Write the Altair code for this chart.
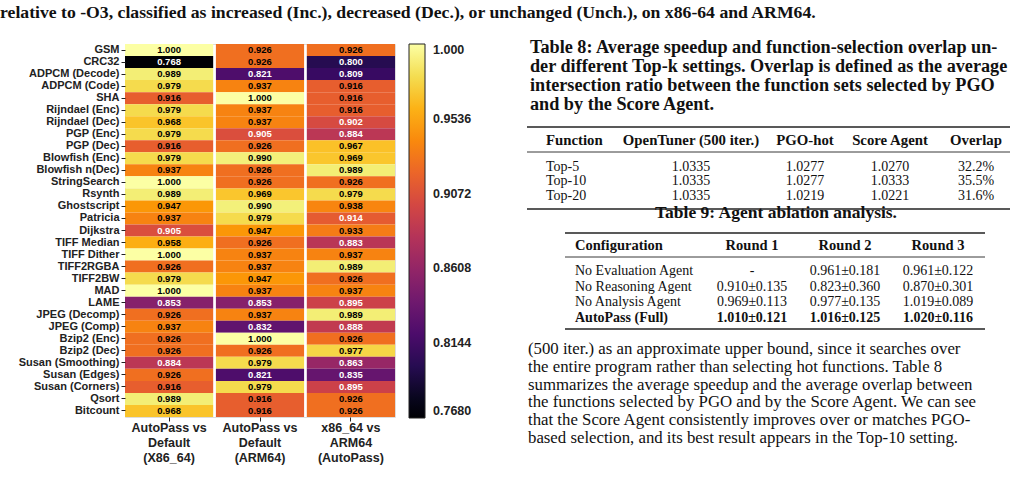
import altair as alt
import pandas as pd

benchmarks = ["GSM", "CRC32", "ADPCM (Decode)", "ADPCM (Code)", "SHA", "Rijndael (Enc)",
              "Rijndael (Dec)", "PGP (Enc)", "PGP (Dec)", "Blowfish (Enc)", "Blowfish n(Dec)",
              "StringSearch", "Rsynth", "Ghostscript", "Patricia", "Dijkstra", "TIFF Median",
              "TIFF Dither", "TIFF2RGBA", "TIFF2BW", "MAD", "LAME", "JPEG (Decomp)",
              "JPEG (Comp)", "Bzip2 (Enc)", "Bzip2 (Dec)", "Susan (Smoothing)", "Susan (Edges)",
              "Susan (Corners)", "Qsort", "Bitcount"]
comparisons = ["AutoPass vs|Default|(X86_64)", "AutoPass vs|Default|(ARM64)", "x86_64 vs|ARM64|(AutoPass)"]
col_x86 = [1.000, 0.768, 0.989, 0.979, 0.916, 0.979, 0.968, 0.979, 0.916, 0.979, 0.937,
           1.000, 0.989, 0.947, 0.937, 0.905, 0.958, 1.000, 0.926, 0.979, 1.000, 0.853,
           0.926, 0.937, 0.926, 0.926, 0.884, 0.926, 0.916, 0.989, 0.968]
col_arm = [0.926, 0.926, 0.821, 0.937, 1.000, 0.937, 0.937, 0.905, 0.926, 0.990, 0.926,
           0.926, 0.969, 0.990, 0.979, 0.947, 0.926, 0.937, 0.937, 0.947, 0.937, 0.853,
           0.937, 0.832, 1.000, 0.926, 0.979, 0.821, 0.979, 0.916, 0.916]
col_cross = [0.926, 0.800, 0.809, 0.916, 0.916, 0.916, 0.902, 0.884, 0.967, 0.969, 0.989,
             0.926, 0.979, 0.938, 0.914, 0.933, 0.883, 0.937, 0.989, 0.926, 0.937, 0.895,
             0.989, 0.888, 0.926, 0.977, 0.863, 0.835, 0.895, 0.926, 0.926]
legend_ticks = [0.768, 0.8144, 0.8608, 0.9072, 0.9536, 1.0]

top_line = "relative to -O3, classified as increased (Inc.), decreased (Dec.), or unchanged (Unch.), on x86-64 and ARM64."
caption8 = ["Table 8: Average speedup and function-selection overlap un-",
            "der different Top-k settings. Overlap is defined as the average",
            "intersection ratio between the function sets selected by PGO",
            "and by the Score Agent."]
t8_header = ["Function", "OpenTuner (500 iter.)", "PGO-hot", "Score Agent", "Overlap"]
t8_rows = [["Top-5", "1.0335", "1.0277", "1.0270", "32.2%"],
           ["Top-10", "1.0335", "1.0277", "1.0333", "35.5%"],
           ["Top-20", "1.0335", "1.0219", "1.0221", "31.6%"]]
caption9 = "Table 9: Agent ablation analysis."
t9_header = ["Configuration", "Round 1", "Round 2", "Round 3"]
t9_rows = [["No Evaluation Agent", "-", "0.961±0.181", "0.961±0.122"],
           ["No Reasoning Agent", "0.910±0.135", "0.823±0.360", "0.870±0.301"],
           ["No Analysis Agent", "0.969±0.113", "0.977±0.135", "1.019±0.089"],
           ["AutoPass (Full)", "1.010±0.121", "1.016±0.125", "1.020±0.116"]]
paragraph = ["(500 iter.) as an approximate upper bound, since it searches over",
             "the entire program rather than selecting hot functions. Table 8",
             "summarizes the average speedup and the average overlap between",
             "the functions selected by PGO and by the Score Agent. We can see",
             "that the Score Agent consistently improves over or matches PGO-",
             "based selection, and its best result appears in the Top-10 setting."]

rows = []
for comp, col in zip(comparisons, [col_x86, col_arm, col_cross]):
    for b, v in zip(benchmarks, col):
        rows.append({"bench": b, "comp": comp, "value": v})
df = pd.DataFrame(rows)

# layout (page pixels)
OX, OY = 125, 44
W, H = 270, 373
SANS = "Liberation Sans"
SERIF = "Liberation Serif"

base = alt.Chart(df).encode(
    x=alt.X("comp:N", sort=comparisons, title=None,
            scale=alt.Scale(paddingInner=0.03, paddingOuter=0),
            axis=alt.Axis(labelAngle=0, labelExpr="split(datum.label, '|')",
                          labelFont=SANS, labelFontSize=12.5, labelFontWeight="bold",
                          labelLineHeight=15, labelColor="#222", labelPadding=0,
                          tickSize=4, tickColor="#222", domain=False)),
    y=alt.Y("bench:N", sort=benchmarks, title=None,
            scale=alt.Scale(paddingInner=0, paddingOuter=0),
            axis=alt.Axis(labelFont=SANS, labelFontSize=11, labelFontWeight="bold",
                          labelColor="#222", labelPadding=2, tickSize=4, tickColor="#222",
                          domain=False, labelLimit=200)),
)
rects = base.mark_rect().encode(
    color=alt.Color("value:Q",
                    scale=alt.Scale(scheme="inferno", domain=[0.768, 1.0]),
                    legend=alt.Legend(title=None, orient="right", offset=14,
                                      gradientLength=374, gradientThickness=16,
                                      gradientStrokeColor="#222", gradientStrokeWidth=1,
                                      values=legend_ticks,
                                      labelExpr="datum.value == 1 ? '1.000' : format(datum.value, '.4f')",
                                      labelFont=SANS, labelFontSize=12.5, labelFontWeight="bold",
                                      labelColor="#222", labelOffset=8, labelBaseline="middle",
                                      padding=0))
)
labels = base.mark_text(font=SANS, fontSize=9.5, fontWeight="bold").encode(
    text=alt.Text("value:Q", format=".3f"),
    color=alt.condition(alt.datum.value < 0.915, alt.value("white"), alt.value("black")),
)

layers = [rects, labels]


def txt(s, x, y, size, weight="normal", align="left", font=SERIF):
    return alt.Chart(pd.DataFrame({"t": [s]})).mark_text(
        align=align, baseline="middle", fontSize=size, fontWeight=weight, font=font,
        color="#111").encode(x=alt.value(x - OX), y=alt.value(y - OY), text="t:N")


def hrule(x1, x2, y, w):
    return alt.Chart(pd.DataFrame({"t": [0]})).mark_rule(color="#222", strokeWidth=w).encode(
        x=alt.value(x1 - OX), x2=alt.value(x2 - OX), y=alt.value(y - OY))


layers.append(txt(top_line, 0, 13, 17.7, "bold"))
for i, line in enumerate(caption8):
    layers.append(txt(line, 530, 48 + 19 * i, 18.2, "bold"))

# Table 8
t8_x = [546, 691, 805, 890, 976]
t8_align = ["left", "center", "center", "center", "center"]
layers.append(hrule(527, 1010, 127, 1.6))
for j, h in enumerate(t8_header):
    layers.append(txt(h, t8_x[j], 141, 14.8, "bold", t8_align[j]))
layers.append(hrule(527, 1010, 152, 0.9))
for i, r in enumerate(t8_rows):
    for j, c in enumerate(r):
        layers.append(txt(c, t8_x[j], 166.5 + 14.5 * i, 14, "normal", t8_align[j]))
layers.append(hrule(527, 1010, 209, 1.6))
layers.append(txt(caption9, 776, 213, 17.5, "bold", "center"))

# Table 9
t9_x = [575, 752, 845, 938]
t9_align = ["left", "center", "center", "center"]
layers.append(hrule(565, 985, 233, 1.6))
for j, h in enumerate(t9_header):
    layers.append(txt(h, t9_x[j], 246, 14.5, "bold", t9_align[j]))
layers.append(hrule(565, 985, 257, 0.9))
for i, r in enumerate(t9_rows):
    w = "bold" if i == len(t9_rows) - 1 else "normal"
    for j, c in enumerate(r):
        layers.append(txt(c, t9_x[j], 271 + 15.5 * i, 14, w, t9_align[j]))
layers.append(hrule(565, 985, 329, 1.6))

for i, line in enumerate(paragraph):
    layers.append(txt(line, 528, 349 + 17.8 * i, 16.8, "normal"))

chart = alt.layer(*layers).properties(
    width=W, height=H,
    autosize=alt.AutoSizeParams(type="none"),
    padding={"left": OX, "top": OY, "right": 1024 - OX - W, "bottom": 479 - OY - H},
).configure_view(stroke="#222", strokeWidth=1).configure(background="white")

chart.save("out.html", embed_options={"renderer": "svg", "actions": False})
